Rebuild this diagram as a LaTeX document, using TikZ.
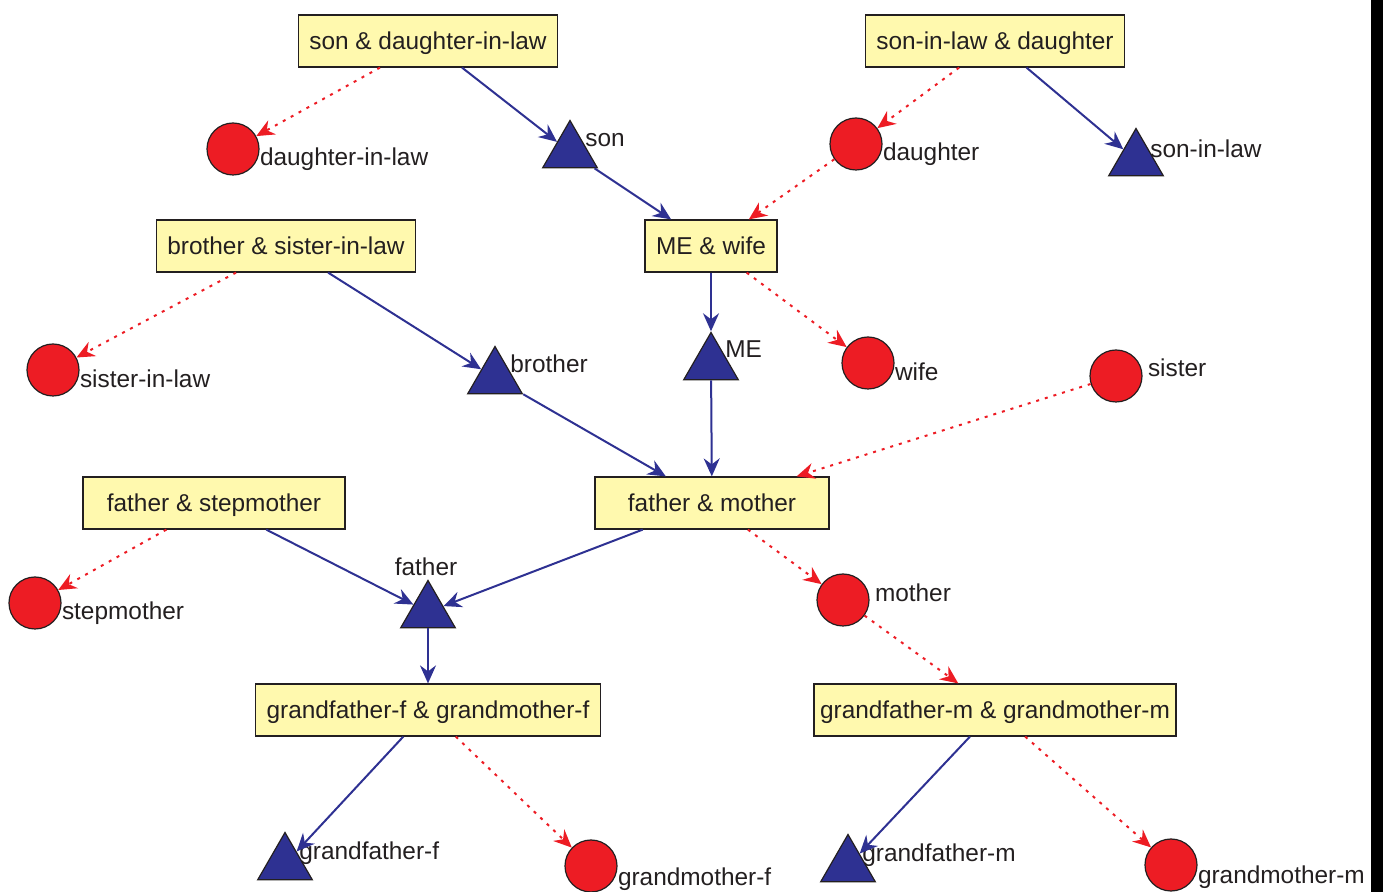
\documentclass[tikz,border=0pt]{standalone}
\usepackage{fontspec}
\setmainfont{Liberation Sans}
\usetikzlibrary{shapes.geometric,arrows.meta}
\definecolor{famblue}{RGB}{46,49,146}
\definecolor{famred}{RGB}{237,28,36}
\definecolor{famyellow}{RGB}{255,249,174}
\definecolor{famtext}{RGB}{35,31,32}

\begin{document}
\begin{tikzpicture}[x=0.5pt,y=-0.5pt,font=\fontsize{12.2}{14}\selectfont,
    couple/.style={draw=famtext,fill=famyellow,line width=0.6pt,minimum height=26pt,inner xsep=5.5pt,text height=10.8pt,text depth=2.6pt,text=famtext},
    male/.style={regular polygon,regular polygon sides=3,draw=famtext,fill=famblue,line width=0.6pt,minimum size=31.5pt,inner sep=0pt},
    female/.style={circle,draw=famtext,fill=famred,line width=0.6pt,minimum size=26pt,inner sep=0pt},
    tag/.style={inner sep=0pt,anchor=west,text=famtext},
    blood/.style={famblue,line width=1pt,-{Stealth[length=9pt,width=8pt,inset=3pt]}},
    wed/.style={famred,line width=1pt,dash pattern=on 1.5pt off 3pt,-{Stealth[length=9pt,width=8pt,inset=3pt]}}]
        \useasboundingbox (0,0) rectangle (1383,892);
        \fill[black] (1371,0) rectangle (1383,892);

        % Couples
        \node[couple] (sdil) at (428,41) {son \& daughter-in-law};
        \node[couple] (sild) at (995,41) {son-in-law \& daughter};
        \node[couple] (bsil) at (286,246) {brother \& sister-in-law};
        \node[couple] (mew) at (711,246) {ME \& wife};
        \node[couple,minimum width=131pt] (fstep) at (214,503) {father \& stepmother};
        \node[couple,minimum width=117pt] (fm) at (712,503) {father \& mother};
        \node[couple] (gff) at (428,710) {grandfather-f \& grandmother-f};
        \node[couple,inner xsep=3pt] (gfm) at (995,710) {grandfather-m \& grandmother-m};

        % Men
        \node[male] (son) at (570,152) {};
        \node[male] (sil) at (1136,160) {};
        \node[male] (bro) at (495,378) {};
        \node[male] (me) at (711,364) {};
        \node[male] (dad) at (428,612) {};
        \node[male] (gpf) at (285,864) {};
        \node[male] (gpm) at (848,866) {};

        % Women
        \node[female] (dil) at (233,149) {};
        \node[female] (dau) at (856,144) {};
        \node[female] (sisil) at (53,370) {};
        \node[female] (wife) at (868,363) {};
        \node[female] (sis) at (1116,376) {};
        \node[female] (stepm) at (35,603) {};
        \node[female] (mom) at (843,600) {};
        \node[female] (gmf) at (591,866) {};
        \node[female] (gmm) at (1171,865) {};

        % Names
        \node[tag] (son-t) at ([xshift=7.5pt,yshift=-10.5pt]son.north) {son};
        \node[tag] (sil-t) at ([xshift=7pt,yshift=-10.5pt]sil.north) {son-in-law};
        \node[tag] (bro-t) at ([xshift=7.5pt,yshift=-9pt]bro.north) {brother};
        \node[tag] (me-t) at ([xshift=7pt,yshift=-9pt]me.north) {ME};
        \node[tag,anchor=south] (dad-t) at ([xshift=-1pt,yshift=1.5pt]dad.north) {father};
        \node[tag] (gpf-t) at ([xshift=7pt,yshift=-11pt]gpf.north) {grandfather-f};
        \node[tag] (gpm-t) at ([xshift=7pt,yshift=-11pt]gpm.north) {grandfather-m};
        \node[tag] (dil-t) at ([xshift=0pt,yshift=-5pt]dil.east) {daughter-in-law};
        \node[tag] (dau-t) at ([xshift=0pt,yshift=-5pt]dau.east) {daughter};
        \node[tag] (sisil-t) at ([xshift=0pt,yshift=-4.5pt]sisil.east) {sister-in-law};
        \node[tag] (wife-t) at ([xshift=0pt,yshift=-4.5pt]wife.east) {wife};
        \node[tag] (sis-t) at ([xshift=2.5pt,yshift=4pt]sis.east) {sister};
        \node[tag] (stepm-t) at ([xshift=0pt,yshift=-5pt]stepm.east) {stepmother};
        \node[tag] (mom-t) at ([xshift=2.5pt,yshift=3.5pt]mom.east) {mother};
        \node[tag] (gmf-t) at ([xshift=0pt,yshift=-6.5pt]gmf.east) {grandmother-f};
        \node[tag] (gmm-t) at ([xshift=0pt,yshift=-6pt]gmm.east) {grandmother-m};

        % Blood lines
        \draw[blood] (sdil) -- (son);
        \draw[blood] (son) -- (mew);
        \draw[blood] (sild) -- (sil);
        \draw[blood] (bsil) -- (bro);
        \draw[blood] (bro) -- (fm);
        \draw[blood] (mew) -- (me);
        \draw[blood] (me) -- (fm);
        \draw[blood] (fstep) -- (dad);
        \draw[blood] (fm) -- (dad);
        \draw[blood] (dad) -- (gff);
        \draw[blood] (gff) -- (gpf);
        \draw[blood] (gfm) -- (gpm);

        % Marriage lines
        \draw[wed] (sdil) -- (dil);
        \draw[wed] (sild) -- (dau);
        \draw[wed] (dau) -- (mew);
        \draw[wed] (bsil) -- (sisil);
        \draw[wed] (mew) -- (wife);
        \draw[wed] (sis) -- (fm);
        \draw[wed] (fstep) -- (stepm);
        \draw[wed] (fm) -- (mom);
        \draw[wed] (mom) -- (gfm);
        \draw[wed] (gff) -- (gmf);
        \draw[wed] (gfm) -- (gmm);
    \end{tikzpicture}
\end{document}
